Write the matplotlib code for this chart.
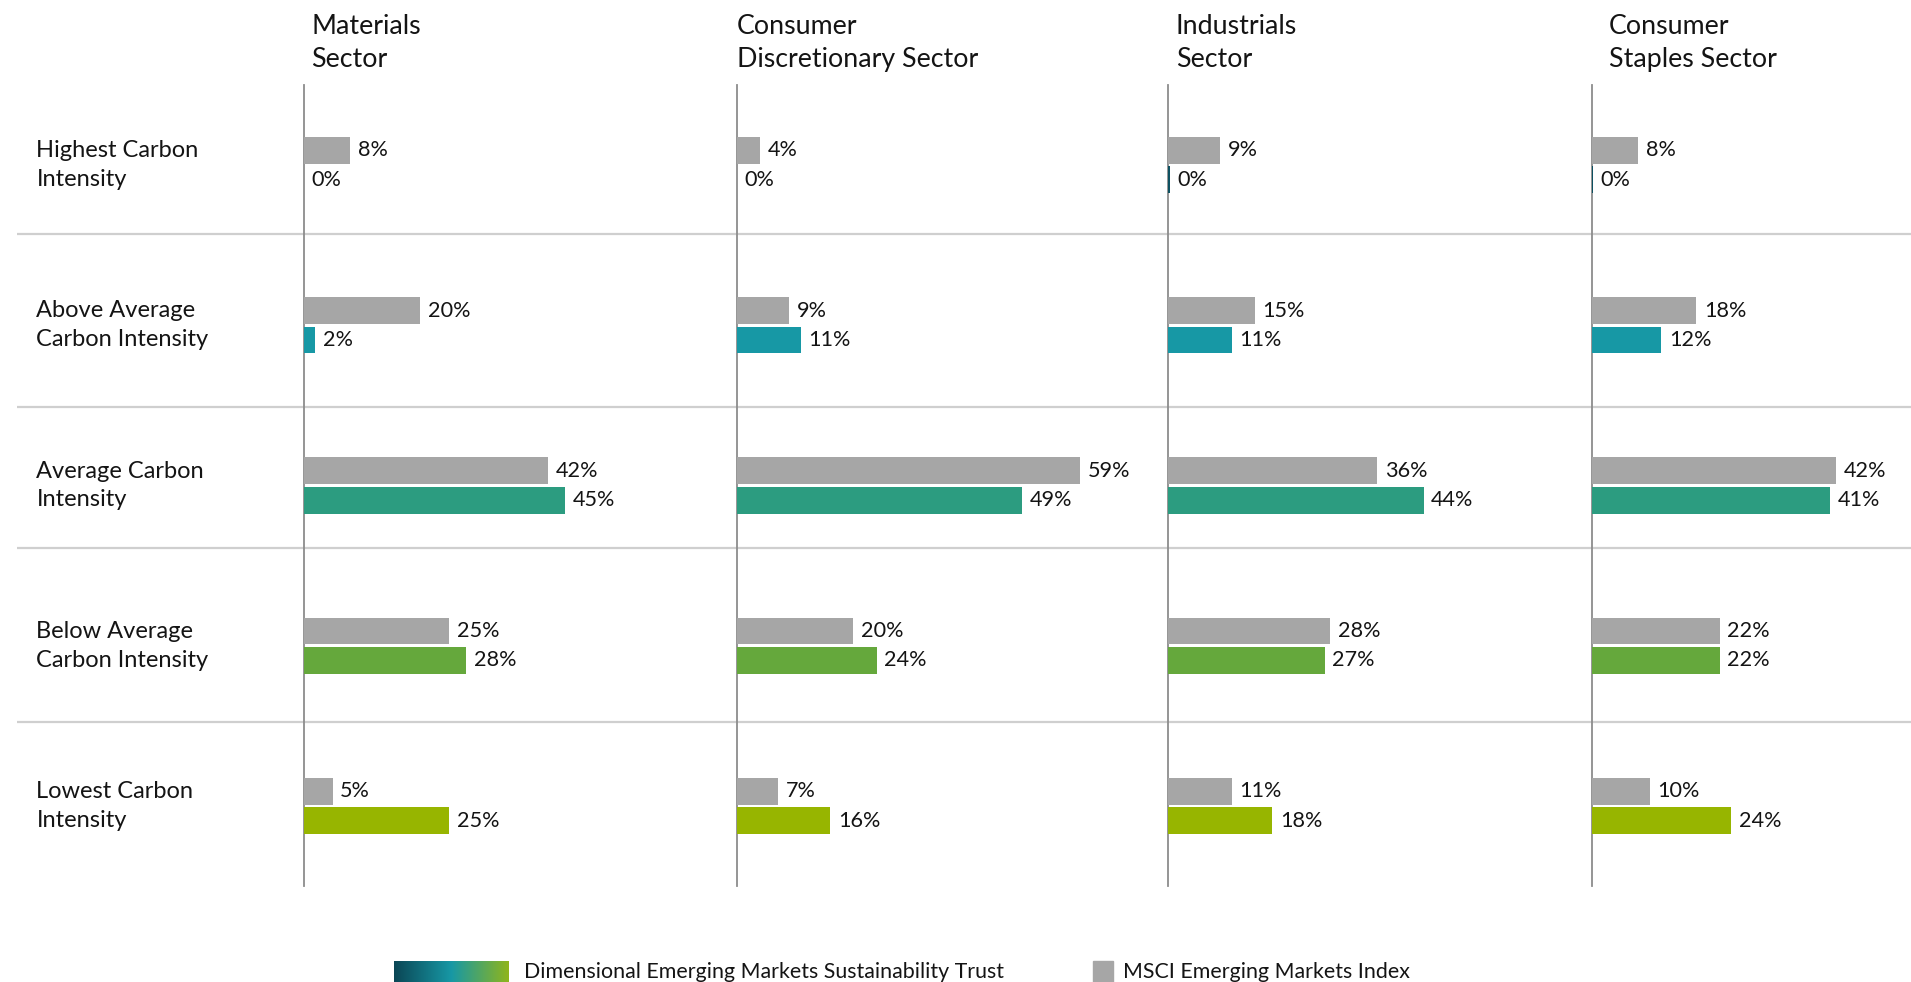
import numpy as np
import matplotlib
matplotlib.use("Agg")
import matplotlib.pyplot as plt
from matplotlib import transforms
from matplotlib.colors import LinearSegmentedColormap

# ---------------- data ----------------
sectors = ["Materials\nSector", "Consumer\nDiscretionary Sector",
           "Industrials\nSector", "Consumer\nStaples Sector"]
categories = ["Highest Carbon\nIntensity", "Above Average\nCarbon Intensity",
              "Average Carbon\nIntensity", "Below Average\nCarbon Intensity",
              "Lowest Carbon\nIntensity"]
msci_materials = [8, 20, 42, 25, 5]
msci_consumer_disc = [4, 9, 59, 20, 7]
msci_industrials = [9, 15, 36, 28, 11]
msci_staples = [8, 18, 42, 22, 10]
trust_materials = [0, 2, 45, 28, 25]
trust_consumer_disc = [0, 11, 49, 24, 16]
trust_industrials = [0.4, 11, 44, 27, 18]
trust_staples = [0.2, 12, 41, 22, 24]
msci_values = [msci_materials, msci_consumer_disc, msci_industrials, msci_staples]
trust_values = [trust_materials, trust_consumer_disc, trust_industrials, trust_staples]
legend_labels = ["Dimensional Emerging Markets Sustainability Trust",
                 "MSCI Emerging Markets Index"]

# ---------------- style ----------------
GRAY = "#a6a6a6"
TRUST_COLORS = ["#0e5161", "#1798a5", "#2c9c80", "#65a83c", "#97b500"]
TEXT = "#141414"
FONT = ["Lato", "DejaVu Sans"]
plt.rcParams["font.family"] = FONT

W, H = 1911, 982
fig = plt.figure(figsize=(W / 100, H / 100), dpi=100)

# background axes in pixel coordinates
bg = fig.add_axes([0, 0, 1, 1], zorder=0)
bg.set_xlim(0, W)
bg.set_ylim(H, 0)
bg.axis("off")

# layout
col_left = [303.5, 737.0, 1167.5, 1591.5]
px_per_pct = 5.82
ax_top, ax_bot = 85, 886
sep_y = [233.5, 407, 548, 722]
header_x = [311, 737, 1176, 1609]
header_y = 43

for y in sep_y:
    bg.plot([17, W], [y, y], color="#cfcfcf", lw=1.6, solid_capstyle="butt")

bar_h = 0.167
off = 0.0915
ypos = np.arange(len(categories))

axes = []
for i in range(4):
    right = col_left[i + 1] - 2 if i < 3 else W
    wpx = right - col_left[i]
    ax = fig.add_axes([col_left[i] / W, 1 - ax_bot / H, wpx / W, (ax_bot - ax_top) / H],
                      zorder=2)
    ax.patch.set_alpha(0)
    ax.set_xlim(0, wpx / px_per_pct)
    ax.set_ylim(len(categories) - 0.5, -0.5)
    for s in ["top", "right", "bottom"]:
        ax.spines[s].set_visible(False)
    ax.spines["left"].set_color("#8c8c8c")
    ax.spines["left"].set_linewidth(1.3)
    ax.set_xticks([])
    ax.set_yticks([])

    ax.barh(ypos - off, msci_values[i], height=bar_h, color=GRAY, zorder=3)
    ax.barh(ypos + off, trust_values[i], height=bar_h, color=TRUST_COLORS, zorder=3)
    for y, v in zip(ypos, msci_values[i]):
        ax.annotate(f"{v:.0f}%", (v, y - off), xytext=(5.5, 0), textcoords="offset points",
                    va="center", ha="left", fontsize=15.6, color=TEXT, zorder=4)
    for y, v in zip(ypos, trust_values[i]):
        ax.annotate(f"{v:.0f}%", (v, y + off), xytext=(5.5, 0), textcoords="offset points",
                    va="center", ha="left", fontsize=15.6, color=TEXT, zorder=4)
    bg.text(header_x[i], header_y, sectors[i], ha="left", va="center",
            fontsize=19.3, color=TEXT, linespacing=1.40)
    axes.append(ax)

# row labels
tr = transforms.blended_transform_factory(bg.transData, axes[0].transData)
for y, lab in zip(ypos, categories):
    bg.text(36.5, y, lab, transform=tr, ha="left", va="center",
            fontsize=17.0, color=TEXT, linespacing=1.45)

# legend
grad = LinearSegmentedColormap.from_list("g", ["#0b4655", "#1798a5", "#8fb51c"])
bg.imshow(np.linspace(0, 1, 256)[None, :], cmap=grad, aspect="auto",
          extent=[394, 509, 982, 961], zorder=3)
bg.add_patch(plt.Rectangle((1093, 961), 20, 21, color=GRAY, zorder=3))
bg.text(524, 972, legend_labels[0], ha="left", va="center", fontsize=15.4, color=TEXT)
bg.text(1123, 972, legend_labels[1], ha="left", va="center", fontsize=15.4, color=TEXT)
bg.set_xlim(0, W)
bg.set_ylim(H, 0)

fig.savefig("out.png", dpi=100)
